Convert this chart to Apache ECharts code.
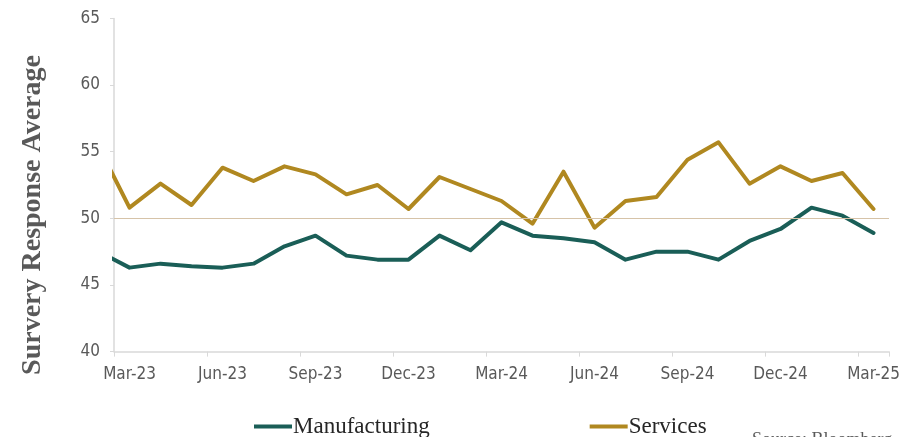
<!DOCTYPE html>
<html>
<head>
<meta charset="utf-8">
<script src="https://cdn.jsdelivr.net/npm/echarts@6/dist/echarts.min.js"></script>
<style>
html,body{margin:0;padding:0;background:#fff;}
#chart{width:917px;height:437px;}
</style>
</head>
<body>
<div id="chart"></div>
<script>
// Months of data (first month is only partly visible at the left edge)
const months = ['Feb-23','Mar-23','Apr-23','May-23','Jun-23','Jul-23','Aug-23','Sep-23','Oct-23','Nov-23','Dec-23',
  'Jan-24','Feb-24','Mar-24','Apr-24','May-24','Jun-24','Jul-24','Aug-24','Sep-24','Oct-24','Nov-24','Dec-24',
  'Jan-25','Feb-25','Mar-25'];
const manufacturing = [47.5, 46.3, 46.6, 46.4, 46.3, 46.6, 47.9, 48.7, 47.2, 46.9, 46.9, 48.7, 47.6, 49.7, 48.7,
  48.5, 48.2, 46.9, 47.5, 47.5, 46.9, 48.3, 49.2, 50.8, 50.2, 48.9];
const services = [55.4, 50.8, 52.6, 51.0, 53.8, 52.8, 53.9, 53.3, 51.8, 52.5, 50.7, 53.1, 52.2, 51.3, 49.6,
  53.5, 49.3, 51.3, 51.6, 54.4, 55.7, 52.6, 53.9, 52.8, 53.4, 50.7];
const axisCategories = months.slice(1);
const yTicks = [40, 45, 50, 55, 60, 65];
const referenceLevel = 50;

const chart = echarts.init(document.getElementById('chart'), null, {renderer: 'canvas'});
const labelFont = "'Liberation Sans Narrow', 'DejaVu Sans Condensed', 'Liberation Sans', sans-serif";
const axisGray = '#D9D9D9';

chart.setOption({
  animation: false,
  backgroundColor: '#ffffff',
  grid: {left: 114, right: 28, top: 18.4, bottom: 85.4, containLabel: false},
  xAxis: [
    {
      type: 'category',
      data: axisCategories,
      boundaryGap: true,
      axisLine: {lineStyle: {color: axisGray, width: 1.5}},
      axisTick: {show: true, interval: 2, length: 5, lineStyle: {color: axisGray}},
      axisLabel: {interval: 2, color: '#595959', fontFamily: labelFont, fontSize: 17, margin: 14},
      splitLine: {show: false}
    },
    {
      type: 'value',
      show: false,
      min: 0.5,
      max: months.length - 0.5
    }
  ],
  yAxis: {
    type: 'value',
    min: yTicks[0],
    max: yTicks[yTicks.length - 1],
    interval: 5,
    axisLine: {show: true, lineStyle: {color: axisGray, width: 1.5}},
    axisTick: {show: true, length: 4, lineStyle: {color: axisGray}},
    axisLabel: {color: '#595959', fontFamily: labelFont, fontSize: 17, margin: 14},
    splitLine: {show: false}
  },
  legend: {
    left: 249,
    top: 410,
    itemGap: 160,
    itemWidth: 38,
    itemHeight: 4,
    icon: 'rect',
    textStyle: {fontFamily: 'Liberation Serif', fontSize: 23, color: '#262626', padding: [0, 0, 0, -4]},
    data: ['Manufacturing', 'Services']
  },
  series: [
    {
      type: 'line',
      name: '_ref',
      xAxisIndex: 1,
      data: [],
      z: 1,
      silent: true,
      markLine: {
        silent: true,
        symbol: 'none',
        label: {show: false},
        lineStyle: {color: '#D6C3A8', width: 1.2, type: 'solid'},
        data: [{yAxis: referenceLevel}]
      }
    },
    {
      type: 'line',
      name: 'Manufacturing',
      xAxisIndex: 1,
      data: months.map((m, i) => [i, manufacturing[i]]),
      symbol: 'none',
      z: 3,
      clip: true,
      color: '#1A5E57',
      lineStyle: {color: '#1A5E57', width: 4, cap: 'round', join: 'round'}
    },
    {
      type: 'line',
      name: 'Services',
      xAxisIndex: 1,
      data: months.map((m, i) => [i, services[i]]),
      symbol: 'none',
      z: 3,
      clip: true,
      color: '#B08820',
      lineStyle: {color: '#B08820', width: 4, cap: 'round', join: 'round'}
    }
  ],
  graphic: [
    {
      type: 'text',
      x: 33,
      y: 215,
      rotation: Math.PI / 2,
      style: {
        text: 'Survery Response Average',
        font: 'bold 28px "Liberation Serif"',
        fill: '#595959',
        textAlign: 'center',
        textVerticalAlign: 'middle'
      }
    },
    {
      type: 'text',
      left: 752,
      top: 431,
      style: {text: 'Source: Bloomberg', font: '18px "Liberation Serif"', fill: '#595959'}
    }
  ]
});
</script>
</body>
</html>
